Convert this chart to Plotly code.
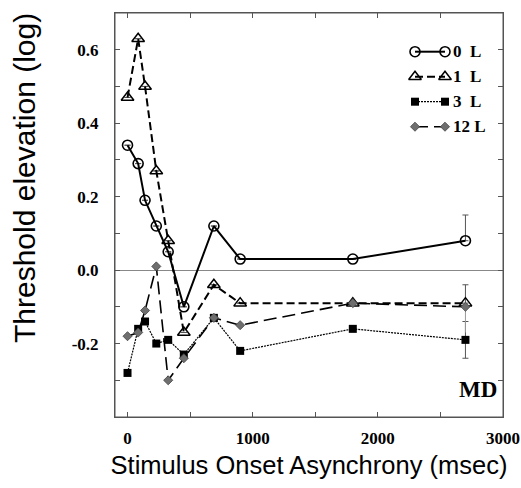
import plotly.graph_objects as go

# ---- data ----
soa = [0, 85, 140, 230, 325, 450, 690, 900, 1800, 2700]
y_0L = [0.34, 0.29, 0.19, 0.12, 0.05, -0.10, 0.12, 0.03, 0.03, 0.08]
y_1L = [0.47, 0.63, 0.50, 0.27, 0.08, -0.17, -0.04, -0.09, -0.09, -0.09]
y_3L = [-0.28, -0.16, -0.14, -0.20, -0.19, -0.23, -0.13, -0.22, -0.16, -0.19]
y_12L = [-0.18, -0.17, -0.11, 0.01, -0.30, -0.24, -0.13, -0.15, -0.09, -0.10]
# error bars (only at the last SOA)
err_0L_up = [0, 0, 0, 0, 0, 0, 0, 0, 0, 0.07]
err_1L_up = [0, 0, 0, 0, 0, 0, 0, 0, 0, 0.05]
err_12L_down = [0, 0, 0, 0, 0, 0, 0, 0, 0, 0.07]
err_3L = [0, 0, 0, 0, 0, 0, 0, 0, 0, 0.05]
legend_labels = ["0\u00a0\u00a0L", "1\u00a0\u00a0L", "3\u00a0\u00a0L", "12\u00a0L"]
x_ticks = [0, 1000, 2000, 3000]
y_ticks = [-0.2, 0.0, 0.2, 0.4, 0.6]
y_ticktext = ["-0.2", "0.0", "0.2", "0.4", "0.6"]

W, H = 521, 488
ML, MR, MT, MB = 115, 18, 13, 71
PW, PH = W - ML - MR, H - MT - MB
XR = [-100, 3000]
YR = [-0.4, 0.7]

def px_x(p):  # pixel -> data x (for legend sample placement)
    return XR[0] + (p - ML) / PW * (XR[1] - XR[0])

def px_y(p):  # pixel -> data y
    return YR[0] + (H - MB - p) / PH * (YR[1] - YR[0])

def paper_x(p):
    return (p - ML) / PW

def paper_y(p):
    return (H - MB - p) / PH

styles = [
    dict(line=dict(color="black", width=2, dash="solid"),
         marker=dict(symbol="circle-open", size=10, color="black", line=dict(width=1.6))),
    dict(line=dict(color="black", width=2, dash="8px,4px"),
         marker=dict(symbol="triangle-up-open", size=11, color="black", line=dict(width=1.5))),
    dict(line=dict(color="black", width=1.2, dash="2px,1px"),
         marker=dict(symbol="square", size=8, color="black")),
    dict(line=dict(color="black", width=1.6, dash="13px,6px"),
         marker=dict(symbol="diamond", size=7, color="#6e6e6e", line=dict(color="#444", width=0.8))),
]

fig = go.Figure()

eb_common = dict(type="data", symmetric=False, color="#555", thickness=1, width=3)
fig.add_trace(go.Scatter(x=soa, y=y_0L, mode="lines+markers", **styles[0],
                         error_y=dict(array=err_0L_up, arrayminus=[0]*10, **eb_common)))
fig.add_trace(go.Scatter(x=soa, y=y_1L, mode="lines+markers", **styles[1],
                         error_y=dict(array=err_1L_up, arrayminus=[0]*10, **eb_common)))
fig.add_trace(go.Scatter(x=soa, y=y_3L, mode="lines+markers", **styles[2],
                         error_y=dict(array=err_3L, arrayminus=err_3L, **eb_common)))
fig.add_trace(go.Scatter(x=soa, y=y_12L, mode="lines+markers", **styles[3],
                         error_y=dict(array=[0]*10, arrayminus=err_12L_down,
                                      type="data", symmetric=False, color="#999", thickness=1, width=0)))

# custom legend (marker - line - marker samples)
leg_rows_px = [51.7, 76.7, 101.7, 126.7]
for i, lab in enumerate(legend_labels):
    yy = px_y(leg_rows_px[i])
    fig.add_trace(go.Scatter(x=[px_x(415), px_x(445)], y=[yy, yy], mode="lines+markers",
                             **styles[i], hoverinfo="skip"))
    fig.add_annotation(x=paper_x(451), y=paper_y(leg_rows_px[i]), xref="paper", yref="paper",
                       text=lab, showarrow=False, xanchor="left", yanchor="middle",
                       font=dict(family="Liberation Serif", size=17, color="black", weight="bold"))

fig.add_annotation(x=paper_x(478), y=paper_y(389), xref="paper", yref="paper", text="MD",
                   showarrow=False, xanchor="center", yanchor="middle",
                   font=dict(family="Liberation Serif", size=23, color="black", weight="bold"))

# y-axis title as annotation (offset above centre as in the reference)
fig.add_annotation(x=paper_x(24), y=paper_y(178), xref="paper", yref="paper",
                   text="Threshold elevation (log)", showarrow=False, textangle=-90,
                   xanchor="center", yanchor="middle",
                   font=dict(family="Liberation Sans", size=30, color="black"))

# plot frame
fig.add_shape(type="rect", xref="paper", yref="paper", x0=0, x1=1, y0=0, y1=1,
              line=dict(color="#555", width=1), layer="above")

tickfont = dict(family="Liberation Serif", size=17, color="black", weight="bold")
fig.update_layout(
    width=W, height=H,
    margin=dict(l=ML, r=MR, t=MT, b=MB, autoexpand=False),
    paper_bgcolor="white", plot_bgcolor="white",
    showlegend=False,
    xaxis=dict(range=XR, tickvals=x_ticks, ticks="inside", ticklen=5, automargin=False,
               tickcolor="#555", showline=True, linecolor="#555", linewidth=1, mirror="ticks",
               showgrid=False, zeroline=False, tickfont=tickfont, ticklabelstandoff=6,
               minor=dict(tickvals=[500, 1500, 2500], ticks="inside", ticklen=5, tickcolor="#555"),
               title=dict(text="Stimulus Onset Asynchrony (msec)", standoff=8,
                          font=dict(family="Liberation Sans", size=25.5, color="black"))),
    yaxis=dict(range=YR, tickvals=y_ticks, ticktext=y_ticktext, ticks="inside", automargin=False,
               ticklen=5, tickcolor="#555", showline=True, linecolor="#555", linewidth=1,
               mirror="ticks", showgrid=False, zeroline=True, zerolinecolor="#888",
               zerolinewidth=1, tickfont=tickfont, ticklabelstandoff=12,
               minor=dict(tickvals=[-0.3, -0.1, 0.1, 0.3, 0.5], ticks="inside", ticklen=5,
                          tickcolor="#555")),
)

fig.write_html("out.html", config={"displayModeBar": False},
               post_script="document.body.style.margin='0';document.body.style.overflow='hidden';")
